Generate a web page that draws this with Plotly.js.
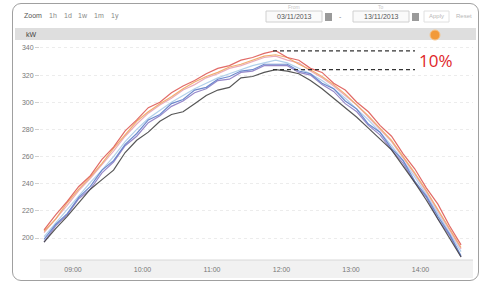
<!DOCTYPE html>
<html>
<head>
<meta charset="utf-8">
<script src="https://cdn.plot.ly/plotly-3.0.1.min.js"></script>
<style>
html,body{margin:0;padding:0;background:#fff;}
#wrap{position:relative;width:485px;height:284px;}
#frame{position:absolute;left:12px;top:3px;width:465px;height:276px;border:1px solid #a0a0a0;border-radius:9px;pointer-events:none;}
#chart{position:absolute;left:0;top:0;width:485px;height:284px;}
</style>
</head>
<body>
<div id="wrap"><div id="chart"></div><div id="frame"></div></div>
<script>
const day = '2013-11-13 ';
const times = ['08:35','08:45','08:55','09:05','09:15','09:25','09:35','09:45','09:55','10:05','10:15','10:25','10:35','10:45','10:55','11:05','11:15','11:25','11:35','11:45','11:55','12:05','12:15','12:25','12:35','12:45','12:55','13:05','13:15','13:25','13:35','13:45','13:55','14:05','14:15','14:25','14:35'];

const seriesRed    = [206,217,227,238,246,258,267,279,287,296,300,307,312,316,321,325,327,331,333,336,338,333,331,325,322,314,309,300,293,283,275,262,251,237,225,209,195];
const seriesOrange = [205,214,226,236,245,255,266,276,286,293,299,304,310,315,319,322,326,328,331,334,335,333,328,324,319,313,306,298,290,281,272,260,248,235,221,207,193];
const seriesPink   = [204,214,224,235,244,254,264,275,284,292,298,303,309,313,318,321,325,327,330,333,334,331,329,323,318,312,305,298,289,280,271,259,247,234,220,206,192];
const seriesLight  = [201,211,221,231,241,250,260,271,280,288,294,300,305,310,314,318,321,324,327,329,331,329,325,321,316,310,303,295,287,278,268,257,245,232,218,204,190];
const seriesBlue   = [199,210,218,230,238,250,257,269,277,287,291,299,302,309,311,317,319,323,324,328,328,328,323,321,314,310,301,295,284,278,266,257,242,231,216,203,187];
const seriesPurple = [197,209,217,229,236,248,256,268,275,285,290,297,301,307,310,316,317,322,323,327,327,327,322,320,313,308,299,293,283,276,265,255,241,230,214,202,186];
const seriesBlack  = [197,207,216,226,236,243,250,263,272,278,286,291,293,299,305,309,311,318,319,322,324,323,321,316,310,303,296,289,281,273,265,253,241,228,214,200,186];

const xTickTimes = ['09:00','10:00','11:00','12:00','13:00','14:00'];
const yTicks = [200,220,240,260,280,300,320,340];
const unitLabel = 'kW';
const rangeButtons = ['1h','1d','1w','1m','1y'];
const dateFrom = '03/11/2013';
const dateTo = '13/11/2013';
const bandTop = 337.8, bandBottom = 324;
const bandLabel = '10%';

const x = times.map(t => day + t);
const defs = [
  [seriesLight,'#a8cbe8'],
  [seriesPurple,'#8c7cc4'],
  [seriesBlue,'#5d7cc8'],
  [seriesBlack,'#444444'],
  [seriesPink,'#e7a3b6'],
  [seriesOrange,'#efa560'],
  [seriesRed,'#de5a55']
];
const traces = defs.map(d => ({
  type:'scatter', mode:'lines', x:x, y:d[0],
  line:{color:d[1], width:1.2}, opacity:0.9, hoverinfo:'skip', showlegend:false
}));

const F = 'Liberation Sans, Arial, sans-serif';
const px = v => (v-40)/433;          // pixel -> paper x
const py = v => (258-v)/216;         // pixel -> paper y

const shapes = [
  {type:'rect', xref:'paper', yref:'paper', x0:px(15), x1:px(476), y0:py(40), y1:py(28), fillcolor:'#dedede', line:{width:0}, layer:'below'},
  {type:'circle', xref:'paper', yref:'paper', x0:px(430), x1:px(440), y0:py(40), y1:py(30), fillcolor:'#f29a3a', line:{color:'#f7c48a', width:1}},
  {type:'rect', xref:'paper', yref:'paper', x0:0, x1:1, y0:py(260), y1:py(278), fillcolor:'#f1f1f1', line:{width:0}, layer:'below'},
  {type:'line', xref:'paper', yref:'paper', x0:0, x1:1, y0:py(260), y1:py(260), line:{color:'#d8d8d8', width:1}},
  {type:'rect', xref:'paper', yref:'paper', x0:px(266), x1:px(322), y0:py(22), y1:py(11), fillcolor:'#fafafa', line:{color:'#d0d0d0', width:1}},
  {type:'rect', xref:'paper', yref:'paper', x0:px(325), x1:px(332), y0:py(21), y1:py(13), fillcolor:'#9a9a9a', line:{width:0}},
  {type:'rect', xref:'paper', yref:'paper', x0:px(353), x1:px(409), y0:py(22), y1:py(11), fillcolor:'#fafafa', line:{color:'#d0d0d0', width:1}},
  {type:'rect', xref:'paper', yref:'paper', x0:px(412), x1:px(419), y0:py(21), y1:py(13), fillcolor:'#9a9a9a', line:{width:0}},
  {type:'rect', xref:'paper', yref:'paper', x0:px(424), x1:px(449), y0:py(22), y1:py(11), fillcolor:'#ffffff', line:{color:'#e0e0e0', width:1}},
  {type:'line', xref:'paper', yref:'y', x0:px(273), x1:px(415), y0:bandTop, y1:bandTop, line:{color:'#333', width:1.2, dash:'4px,3px'}},
  {type:'line', xref:'paper', yref:'y', x0:px(273), x1:px(415), y0:bandBottom, y1:bandBottom, line:{color:'#333', width:1.2, dash:'4px,3px'}}
];

const annotations = [
  {text:'Zoom', xref:'paper', yref:'paper', x:px(22), y:py(16), xanchor:'left', yanchor:'middle', showarrow:false, font:{family:F, size:7, color:'#555'}},
  {text:unitLabel, xref:'paper', yref:'paper', x:px(31), y:py(34), xanchor:'center', yanchor:'middle', showarrow:false, font:{family:F, size:7, color:'#444'}},
  {text:dateFrom, xref:'paper', yref:'paper', x:px(294), y:py(16.5), xanchor:'center', yanchor:'middle', showarrow:false, font:{family:F, size:7, color:'#555'}},
  {text:'-', xref:'paper', yref:'paper', x:px(340), y:py(16.5), xanchor:'center', yanchor:'middle', showarrow:false, font:{family:F, size:7, color:'#888'}},
  {text:dateTo, xref:'paper', yref:'paper', x:px(381), y:py(16.5), xanchor:'center', yanchor:'middle', showarrow:false, font:{family:F, size:7, color:'#555'}},
  {text:'Apply', xref:'paper', yref:'paper', x:px(436), y:py(16.5), xanchor:'center', yanchor:'middle', showarrow:false, font:{family:F, size:6, color:'#b8b8b8'}},
  {text:'Reset', xref:'paper', yref:'paper', x:px(464), y:py(16.5), xanchor:'center', yanchor:'middle', showarrow:false, font:{family:F, size:6, color:'#b8b8b8'}},
  {text:'From', xref:'paper', yref:'paper', x:px(294), y:py(7), xanchor:'center', yanchor:'middle', showarrow:false, font:{family:F, size:5, color:'#c8c8c8'}},
  {text:'To', xref:'paper', yref:'paper', x:px(381), y:py(7), xanchor:'center', yanchor:'middle', showarrow:false, font:{family:F, size:5, color:'#c8c8c8'}},
  {text:bandLabel, xref:'paper', yref:'y', x:px(436), y:(bandTop+bandBottom)/2, xanchor:'center', yanchor:'middle', showarrow:false, font:{family:'Open Sans, sans-serif', size:17, color:'#e0262a'}}
];
const btnX = [53,68,83,99,115];
rangeButtons.forEach((b,i) => annotations.push({text:b, xref:'paper', yref:'paper', x:px(btnX[i]), y:py(16), xanchor:'center', yanchor:'middle', showarrow:false, font:{family:F, size:7, color:'#888'}}));

const layout = {
  width:485, height:284,
  margin:{l:40, r:12, t:42, b:26, pad:0},
  paper_bgcolor:'rgba(0,0,0,0)', plot_bgcolor:'#ffffff',
  showlegend:false,
  xaxis:{
    type:'date',
    range:[day+'08:31:30', day+'14:45:19'],
    tickvals:xTickTimes.map(t => day+t), ticktext:xTickTimes,
    showgrid:false, zeroline:false, showline:false, ticks:'',
    tickfont:{family:F, size:7, color:'#777'}, ticklabelstandoff:6
  },
  yaxis:{
    range:[185.3, 344.4],
    tickvals:yTicks,
    showgrid:true, gridcolor:'#ececec', griddash:'dot', gridwidth:1,
    zeroline:false, showline:false,
    ticks:'outside', ticklen:4, tickcolor:'#d0d0d0',
    tickfont:{family:F, size:7, color:'#777'}
  },
  shapes:shapes,
  annotations:annotations
};
Plotly.newPlot('chart', traces, layout, {staticPlot:true, displayModeBar:false});
</script>
</body>
</html>
